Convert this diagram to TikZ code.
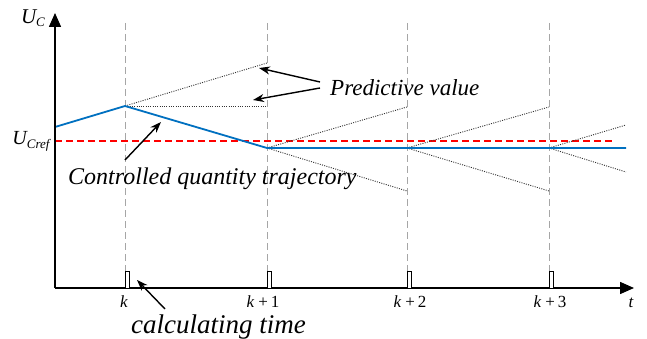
\documentclass[tikz,border=0pt]{standalone}
\usepackage{fontspec}
\setmainfont{Liberation Serif}
\usetikzlibrary{arrows.meta}
\definecolor{trajblue}{RGB}{0,112,192}
\begin{document}
\begin{tikzpicture}[x=1pt,y=-1pt,
  axis/.style={line width=1.5pt,-{Triangle[length=14pt,width=12pt]}},
  gridline/.style={black!35, dash pattern=on 7pt off 4pt, line width=0.8pt},
  pred/.style={black!80, dash pattern=on 1pt off 1.3pt, line width=0.9pt},
  trajline/.style={trajblue, line width=1.8pt, line join=round},
  refline/.style={red, line width=1.8pt, dash pattern=on 7pt off 4pt},
  callout/.style={line width=1.4pt, -{Stealth[length=11pt,width=8pt]}},
  tickbox/.style={draw, line width=1pt, fill=white},
  klabel/.style={font=\fontsize{17}{17}\selectfont, inner sep=0, anchor=base},
  bigtext/.style={font=\fontsize{24}{24}\selectfont\itshape, inner sep=0, anchor=base west}]
\useasboundingbox (0,0) rectangle (647,339);
% axes
\coordinate (O) at (55,288);
\coordinate (ytip) at (55,13);
\coordinate (xtip) at (634,288);
% grid lines
\foreach \x/\n in {125/a,267/b,407/c,549/d}{
  \coordinate (top\n) at (\x,23);
  \coordinate (bot\n) at (\x,288);
  \draw[gridline] (top\n) -- (bot\n);
}
% reference
\coordinate (r0) at (55,141);
\coordinate (r1) at (612,141);
\draw[refline] (r0) -- (r1);
% predictive lines
\coordinate (p0) at (125,106);
\coordinate (p1) at (267,148);
\coordinate (p2) at (407,148);
\coordinate (p3) at (549,148);
\coordinate (p0u) at (267,63);
\coordinate (p0h) at (267,106);
\coordinate (p1u) at (407,107);
\coordinate (p1d) at (407,191);
\coordinate (p2u) at (549,107);
\coordinate (p2d) at (549,191);
\coordinate (p3u) at (626,125);
\coordinate (p3d) at (626,172);
\draw[pred] (p0) -- (p0u);
\draw[pred] (p0) -- (p0h);
\draw[pred] (p1) -- (p1u);
\draw[pred] (p1) -- (p1d);
\draw[pred] (p2) -- (p2u);
\draw[pred] (p2) -- (p2d);
\draw[pred] (p3) -- (p3u);
\draw[pred] (p3) -- (p3d);
% trajectory
\coordinate (s) at (55,127);
\coordinate (e) at (626,148);
\draw[trajline] (s) -- (p0) -- (p1) -- (e);
% axes on top
\draw[axis] (O) -- (ytip);
\draw[axis] (O) -- (xtip);
% tick boxes
\foreach \x in {125,267,407,549}{
  \draw[tickbox] (\x,271) rectangle ++(4.5,17);
}
% axis labels
\node[inner sep=0] (uc) at (33,18) {\fontsize{21}{21}\selectfont\itshape U\raisebox{-3pt}{\fontsize{13}{13}\selectfont C}};
\node[inner sep=0] (ucref) at (31,141) {\fontsize{20}{20}\selectfont\itshape U\raisebox{-4pt}{\fontsize{13}{13}\selectfont Cref}};
\node[klabel] (kk) at (124,307) {\itshape k};
\node[klabel] (k1) at (263,307) {\itshape k\normalfont\ +\,1};
\node[klabel] (k2) at (410,307) {\itshape k\normalfont\ +\,2};
\node[klabel] (k3) at (550,307) {\itshape k\normalfont\ +\,3};
\node[klabel] (t) at (631,307) {\itshape t};
% texts
\node[bigtext, font=\fontsize{23}{23}\selectfont\itshape] (pv) at (330,96) {Predictive value};
\node[bigtext] (cq) at (68,184) {Controlled quantity trajectory};
\node[bigtext, font=\fontsize{27}{27}\selectfont\itshape] (ct) at (131,333) {calculating time};
% callouts
\coordinate (pva) at (320,82);
\coordinate (pvb) at (320,88);
\coordinate (pvat) at (259,68);
\coordinate (pvbt) at (253,100);
\draw[callout] (pva) -- (pvat);
\draw[callout] (pvb) -- (pvbt);
\coordinate (cqs) at (125,160);
\coordinate (cqt) at (161,122);
\draw[callout] (cqs) -- (cqt);
\coordinate (cts) at (165,309);
\coordinate (ctt) at (137,280);
\draw[callout] (cts) -- (ctt);
\end{tikzpicture}
\end{document}
